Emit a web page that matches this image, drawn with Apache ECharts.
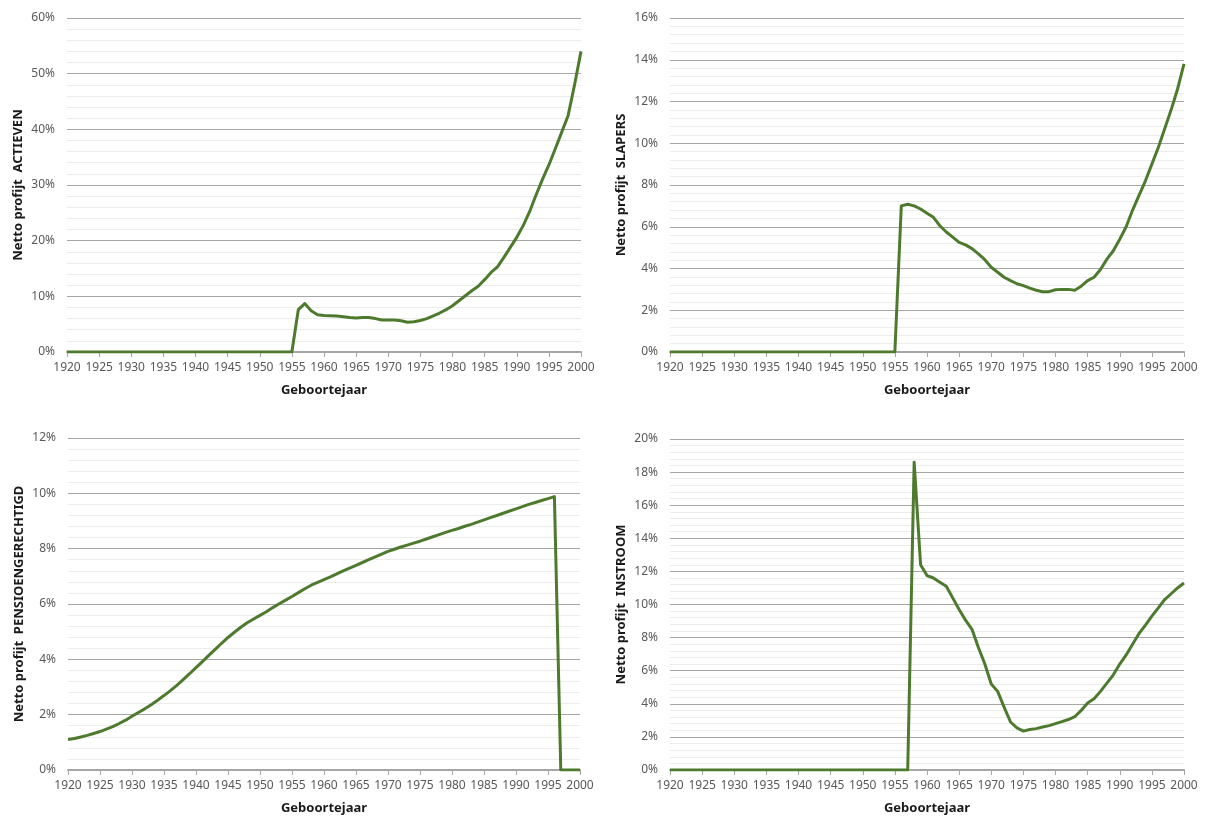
<!DOCTYPE html>
<html>
<head>
<meta charset="utf-8">
<script src="https://cdn.jsdelivr.net/npm/echarts@6/dist/echarts.min.js"></script>
<style>
html,body{margin:0;padding:0;background:#fff;}
#c{width:1206px;height:816px;}
</style>
</head>
<body>
<div id="c"></div>
<script>
const years = [1920,1921,1922,1923,1924,1925,1926,1927,1928,1929,
1930,1931,1932,1933,1934,1935,1936,1937,1938,1939,
1940,1941,1942,1943,1944,1945,1946,1947,1948,1949,
1950,1951,1952,1953,1954,1955,1956,1957,1958,1959,
1960,1961,1962,1963,1964,1965,1966,1967,1968,1969,
1970,1971,1972,1973,1974,1975,1976,1977,1978,1979,
1980,1981,1982,1983,1984,1985,1986,1987,1988,1989,
1990,1991,1992,1993,1994,1995,1996,1997,1998,1999,2000];

// Netto profijt (%) per geboortejaar
const actieven = [0,0,0,0,0,0,0,0,0,0, 0,0,0,0,0,0,0,0,0,0, 0,0,0,0,0,0,0,0,0,0, 0,0,0,0,0,0,
7.6,8.7,7.4,6.7,6.55,6.5,6.45,6.35,6.2,6.1,
6.2,6.2,6.0,5.75,5.75,5.75,5.6,5.35,5.45,5.65,
6.0,6.5,7.0,7.6,8.3,9.2,10.1,11.0,11.8,13.0,
14.3,15.3,17.0,18.8,20.6,22.7,25.2,28.2,31.0,33.6,
36.5,39.5,42.5,48.0,54.0];

const slapers = [0,0,0,0,0,0,0,0,0,0, 0,0,0,0,0,0,0,0,0,0, 0,0,0,0,0,0,0,0,0,0, 0,0,0,0,0,0,
7.0,7.08,7.0,6.85,6.65,6.45,6.05,5.75,5.5,5.25,
5.13,4.95,4.7,4.42,4.06,3.82,3.58,3.42,3.27,3.18,
3.06,2.96,2.89,2.89,2.98,3.0,3.0,2.96,3.15,3.42,
3.58,3.95,4.45,4.85,5.4,6.0,6.8,7.5,8.2,9.0,
9.8,10.7,11.6,12.6,13.8];

const pensioengerechtigd = [1.10,1.14,1.19,1.25,1.32,1.39,1.48,1.57,1.68,1.80,
1.94,2.08,2.21,2.36,2.52,2.69,2.87,3.06,3.27,3.48,
3.70,3.92,4.14,4.36,4.58,4.79,4.98,5.16,5.32,5.46,
5.59,5.72,5.87,6.01,6.14,6.27,6.41,6.55,6.68,6.78,
6.88,6.98,7.09,7.20,7.30,7.40,7.50,7.60,7.70,7.80,
7.90,7.98,8.06,8.13,8.20,8.27,8.35,8.43,8.51,8.59,
8.66,8.73,8.81,8.88,8.96,9.04,9.12,9.20,9.28,9.36,
9.44,9.52,9.60,9.67,9.74,9.81,9.88,0,0,0,0];

const instroom = [0,0,0,0,0,0,0,0,0,0, 0,0,0,0,0,0,0,0,0,0, 0,0,0,0,0,0,0,0,0,0, 0,0,0,0,0,0,0,0,
18.6,12.4,11.75,11.6,11.35,11.1,10.4,9.7,
9.05,8.5,7.4,6.4,5.2,4.75,3.8,2.9,2.55,2.35,
2.45,2.5,2.6,2.68,2.8,2.92,3.05,3.22,3.6,4.05,
4.3,4.75,5.25,5.75,6.4,6.95,7.6,8.25,8.75,9.3,
9.8,10.3,10.65,11.0,11.3];

const panels = [
  {name: 'Netto profijt  ACTIEVEN', data: actieven, max: 60, interval: 10},
  {name: 'Netto profijt  SLAPERS', data: slapers, max: 16, interval: 2},
  {name: 'Netto profijt  PENSIOENGERECHTIGD', data: pensioengerechtigd, max: 12, interval: 2},
  {name: 'Netto profijt  INSTROOM', data: instroom, max: 20, interval: 2}
];

const xTitle = 'Geboortejaar';
const FONT = 'Noto Sans';
const grids = [
  {left: 67, top: 18, width: 514, height: 334},
  {left: 670, top: 18, width: 514, height: 334},
  {left: 68, top: 438, width: 512, height: 333},
  {left: 670, top: 439, width: 514, height: 334}
];

const xAxis = [], yAxis = [], series = [];
panels.forEach((p, i) => {
  xAxis.push({
    type: 'value', gridIndex: i, min: 1920, max: 2000, interval: 5,
    name: xTitle, nameLocation: 'middle', nameGap: 32,
    nameTextStyle: {fontFamily: FONT, fontWeight: 'bold', fontSize: 13, color: '#1a1a1a'},
    axisLine: {show: true, lineStyle: {color: '#a6a6a6', width: 2}},
    axisTick: {show: true, length: 5, lineStyle: {color: '#a6a6a6', width: 1}},
    axisLabel: {fontFamily: FONT, fontSize: 12, color: '#595959', margin: 10,
      formatter: v => String(v)},
    splitLine: {show: false}
  });
  yAxis.push({
    type: 'value', gridIndex: i, min: 0, max: p.max, interval: p.interval,
    name: p.name, nameLocation: 'middle', nameRotate: 90, nameGap: 42,
    nameTextStyle: {fontFamily: FONT, fontWeight: 'bold', fontSize: 13, color: '#1a1a1a'},
    axisLine: {show: false}, axisTick: {show: false},
    axisLabel: {fontFamily: FONT, fontSize: 12, color: '#595959', margin: 12, formatter: '{value}%'},
    splitLine: {show: true, lineStyle: {color: '#a6a6a6', width: 1}},
    minorTick: {show: false, splitNumber: 5},
    minorSplitLine: {show: true, lineStyle: {color: '#ececec', width: 1}}
  });
  series.push({
    type: 'line', xAxisIndex: i, yAxisIndex: i,
    data: years.map((y, k) => [y, p.data[k]]),
    showSymbol: false, symbol: 'none', smooth: false,
    lineStyle: {color: '#4e7a2e', width: 3, join: 'round'},
    itemStyle: {color: '#4e7a2e'},
    animation: false
  });
});

const chart = echarts.init(document.getElementById('c'), null, {renderer: 'canvas'});
chart.setOption({
  backgroundColor: '#fff',
  animation: false,
  grid: grids,
  xAxis: xAxis,
  yAxis: yAxis,
  series: series
});
</script>
</body>
</html>
